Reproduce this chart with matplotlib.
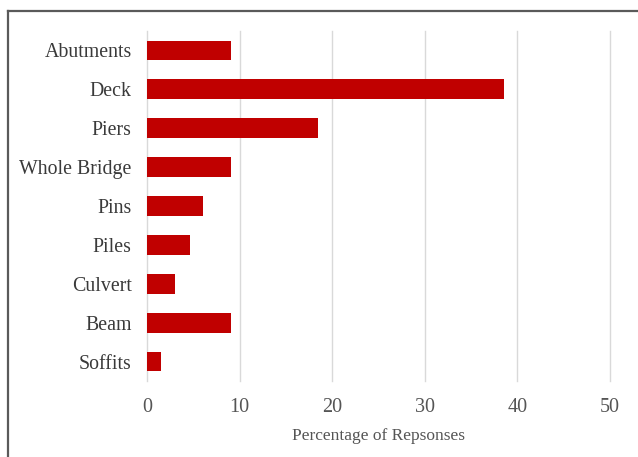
import matplotlib
matplotlib.use("Agg")
import matplotlib.pyplot as plt
from matplotlib.lines import Line2D

categories = ["Abutments", "Deck", "Piers", "Whole Bridge", "Pins", "Piles", "Culvert", "Beam", "Soffits"]
values = [9.1, 38.6, 18.5, 9.1, 6.1, 4.6, 3.0, 9.1, 1.5]
xticks = [0, 10, 20, 30, 40, 50]

plt.rcParams['font.family'] = ['Liberation Serif', 'DejaVu Serif']

fig = plt.figure(figsize=(6.38, 4.57), dpi=100)
W, H = 638, 457
left, right, top, bottom = 147, 610, 31, 381
ax = fig.add_axes([left / W, 1 - bottom / H, (right - left) / W, (bottom - top) / H])

y = list(range(len(categories)))
ax.barh(y, values, height=0.51, color="#C00000", zorder=3)
ax.set_ylim(len(categories) - 0.5, -0.5)
ax.set_xlim(0, 50)
ax.set_xticks(xticks)
ax.set_yticks(y)
ax.set_yticklabels(categories)
ax.grid(axis="x", color="#d9d9d9", linewidth=1, zorder=0)
for gl in ax.get_xgridlines():
    gl.set_clip_on(False)
for s in ax.spines.values():
    s.set_visible(False)
ax.tick_params(axis="y", length=0, pad=11, labelsize=14.3, labelcolor="#3a3a3a")
ax.tick_params(axis="x", length=0, pad=12, labelsize=14.5, labelcolor="#555555")
ax.set_xlabel("Percentage of Repsonses", fontsize=12.5, color="#555555", labelpad=8)

# figure border lines (top and left)
fig.add_artist(Line2D([8 / W, 1], [1 - 11 / H, 1 - 11 / H], color="#5a5a5a", linewidth=1.6, transform=fig.transFigure))
fig.add_artist(Line2D([8 / W, 8 / W], [0, 1 - 11 / H], color="#5a5a5a", linewidth=1.6, transform=fig.transFigure))

fig.savefig("out.png", dpi=100, facecolor="white")
